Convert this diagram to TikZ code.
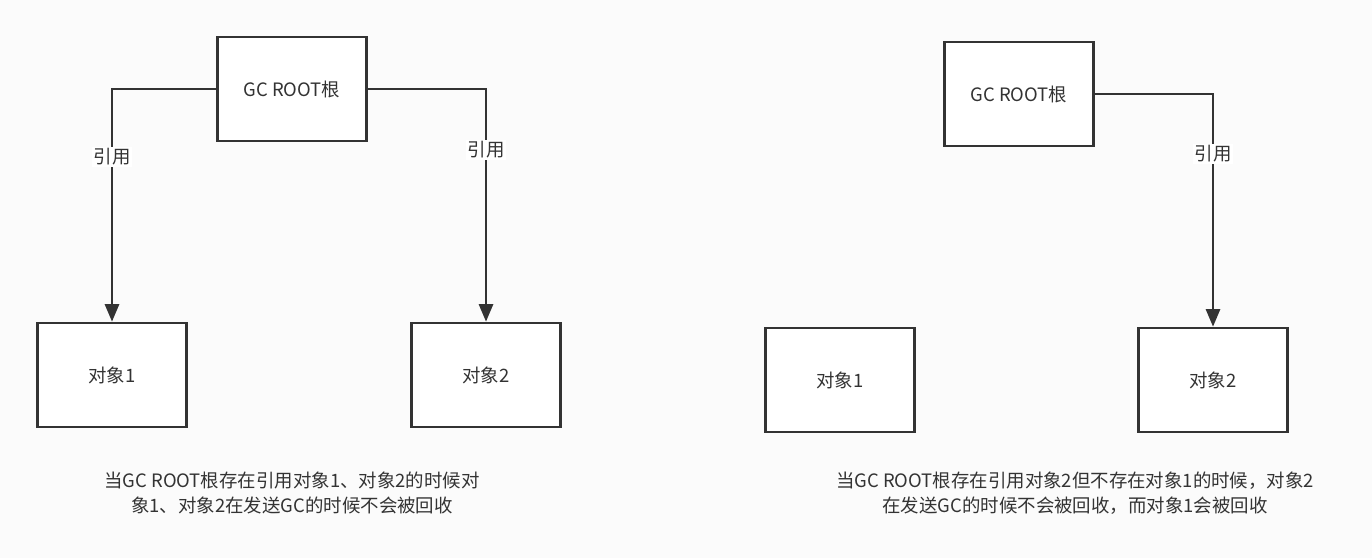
\documentclass[tikz,border=0pt]{standalone}
\usepackage{fontspec}
\setmainfont{Noto Sans CJK SC}
\usetikzlibrary{positioning,arrows.meta}
\definecolor{ink}{HTML}{333333}
\begin{document}
\begin{tikzpicture}[x=0.02cm,y=-0.02cm,
    box/.style={rectangle, draw=ink, line width=1.5pt, fill=white, minimum width=2.98cm, minimum height=2.08cm, font=\fontsize{10.5}{12}\selectfont, text=ink},
    link/.style={-{Triangle[length=10pt,width=8pt]}, draw=ink, line width=1.5pt},
    tag/.style={fill=white, inner sep=1pt, font=\fontsize{10.5}{12}\selectfont, text=ink},
    note/.style={align=center, font=\fontsize{10.5}{14}\selectfont, text=ink}
  ]
  \fill[gray!3] (0,0) rectangle (1372,558);
  % left case
  \node[box] (root1) at (292,89) {GC ROOT根};
  \node[box] (obj1) at (112,375) {对象1};
  \node[box] (obj2) at (486,375) {对象2};
  \draw[link] (root1.west) -| (obj1.north);
  \draw[link] (root1.east) -| (obj2.north);
  \node[tag] at (112,157) {引用};
  \node[tag] at (486,150) {引用};
  \node[note] (cap1) at (292,493) {当GC ROOT根存在引用对象1、对象2的时候对\\象1、对象2在发送GC的时候不会被回收};
  % right case
  \node[box] (root2) at (1019,94) {GC ROOT根};
  \node[box] (obj3) at (840,380) {对象1};
  \node[box] (obj4) at (1213,380) {对象2};
  \draw[link] (root2.east) -| (obj4.north);
  \node[tag] at (1213,154) {引用};
  \node[note] (cap2) at (1075,493) {当GC ROOT根存在引用对象2但不存在对象1的时候，对象2\\在发送GC的时候不会被回收，而对象1会被回收};
\end{tikzpicture}
\end{document}
